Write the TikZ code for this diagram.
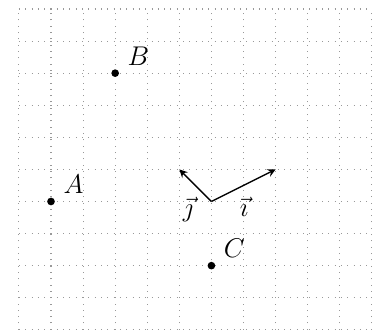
\documentclass[tikz,border=0pt]{standalone}
\usepackage{amsmath, amssymb}
\usepackage{tikz}
\usetikzlibrary{arrows,positioning,calc}

\tikzset{
    pointdot/.style={circle, fill=black, inner sep=0pt, minimum size=3.4pt},
    pointlabel/.style={inner sep=0pt},
    gridline/.style={gray!80, line width=0.5pt, dash pattern=on 0.45pt off 2.35pt},
}

\begin{document}
\begin{tikzpicture}[x=0.5cm, y=0.5cm, font=\large]
        \useasboundingbox (-0.59,-0.03) rectangle (11.13,10.28);
        % dotted grid
        \draw[gridline, step=0.5cm] (0,0) grid (11,10);
        % the three points
        \foreach \x/\y/\name in {1/4/A, 3/8/B, 6/2/C} {
            \node[pointdot] (\name) at (\x,\y) {};
            \node[pointlabel, above right=2pt and 4pt of \name] (lab\name) {$\name$};
        }
        % basis vectors
        \coordinate (O) at (6,4);
        \coordinate (I) at (8,5);
        \coordinate (J) at (5,5);
        \draw[->, >=stealth, line width=0.6pt] (O) -- (I);
        \draw[->, >=stealth, line width=0.6pt] (O) -- (J);
        \node (labI) at (7.02,3.84) {$\vec{\imath}$};
        \node (labJ) at (5.27,3.76) {$\vec{\jmath}$};
    \end{tikzpicture}
\end{document}
